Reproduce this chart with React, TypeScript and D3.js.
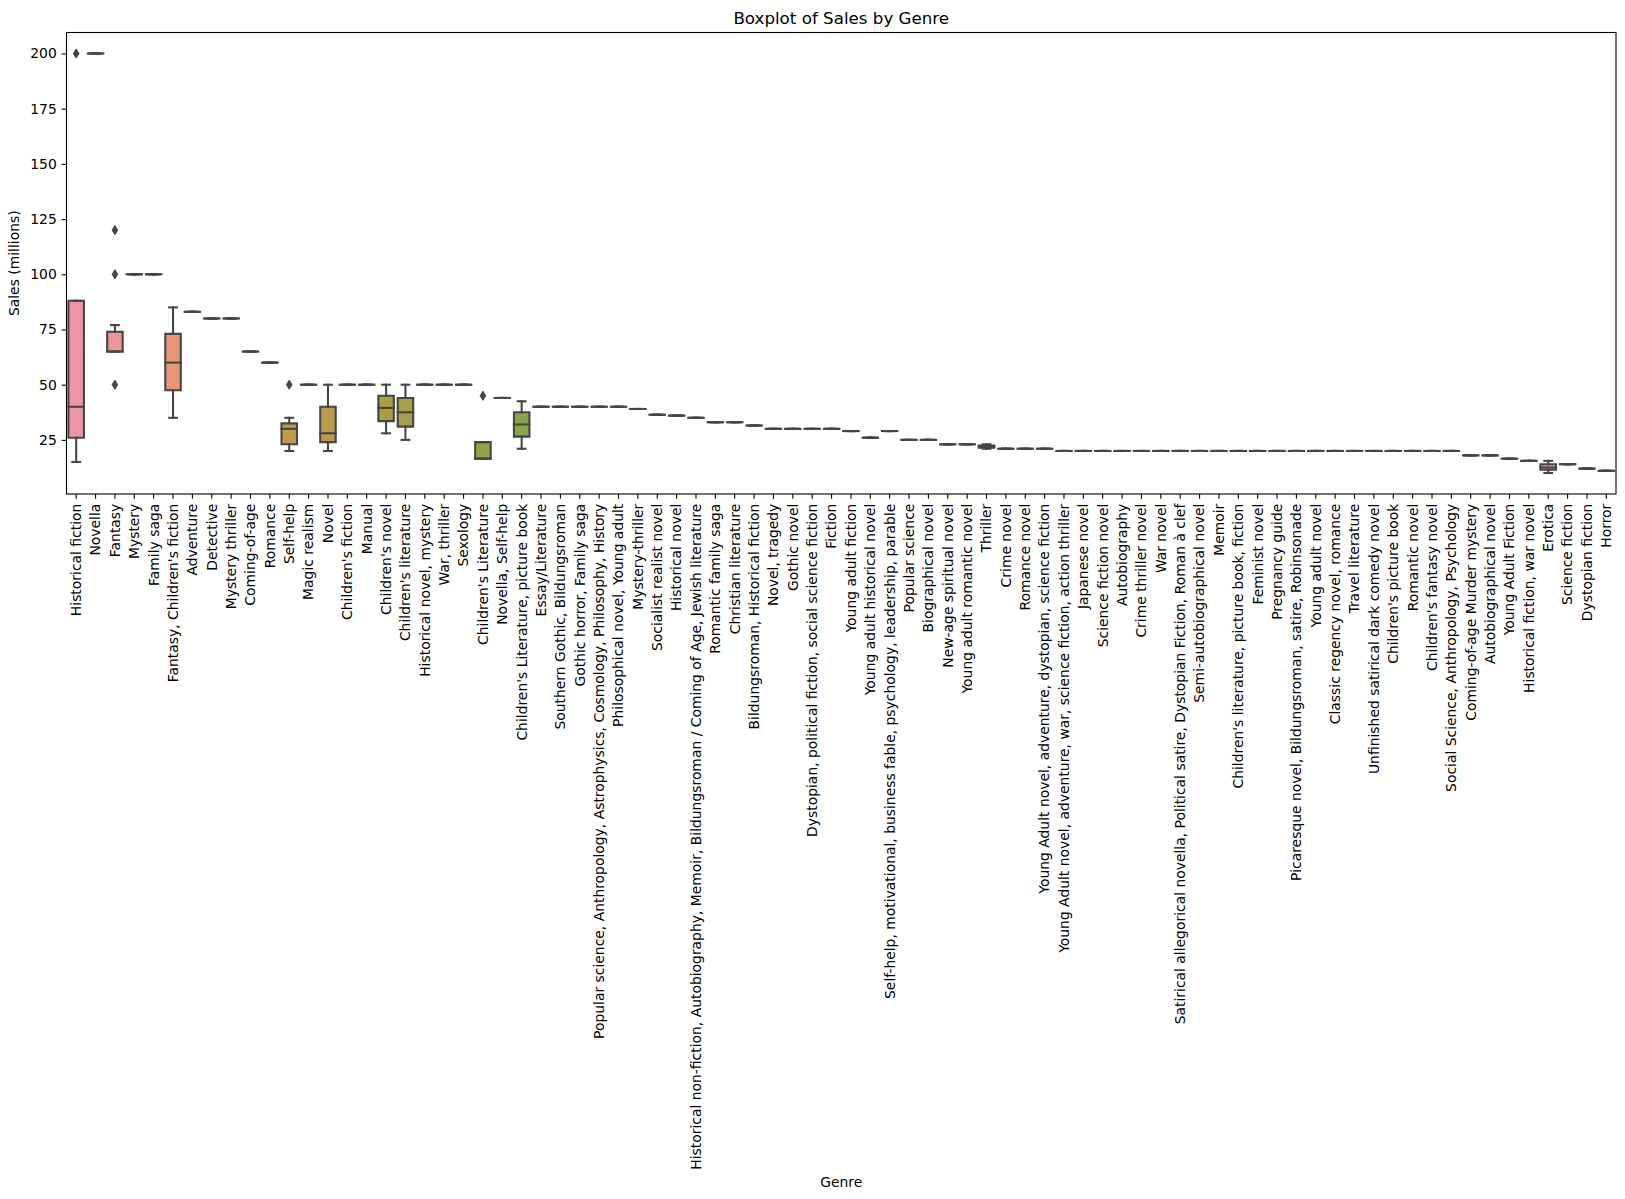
import { useEffect, useRef } from "react";
import * as d3 from "d3";

// categories in plotting order
const GENRES = [
  "Historical fiction",
  "Novella",
  "Fantasy",
  "Mystery",
  "Family saga",
  "Fantasy, Children's fiction",
  "Adventure",
  "Detective",
  "Mystery thriller",
  "Coming-of-age",
  "Romance",
  "Self-help",
  "Magic realism",
  "Novel",
  "Children's fiction",
  "Manual",
  "Children's novel",
  "Children's literature",
  "Historical novel, mystery",
  "War, thriller",
  "Sexology",
  "Children's Literature",
  "Novella, Self-help",
  "Children's Literature, picture book",
  "Essay/Literature",
  "Southern Gothic, Bildungsroman",
  "Gothic horror, Family saga",
  "Popular science, Anthropology, Astrophysics, Cosmology, Philosophy, History",
  "Philosophical novel, Young adult",
  "Mystery-thriller",
  "Socialist realist novel",
  "Historical novel",
  "Historical non-fiction, Autobiography, Memoir, Bildungsroman / Coming of Age, Jewish literature",
  "Romantic family saga",
  "Christian literature",
  "Bildungsroman, Historical fiction",
  "Novel, tragedy",
  "Gothic novel",
  "Dystopian, political fiction, social science fiction",
  "Fiction",
  "Young adult fiction",
  "Young adult historical novel",
  "Self-help, motivational, business fable, psychology, leadership, parable",
  "Popular science",
  "Biographical novel",
  "New-age spiritual novel",
  "Young adult romantic novel",
  "Thriller",
  "Crime novel",
  "Romance novel",
  "Young Adult novel, adventure, dystopian, science fiction",
  "Young Adult novel, adventure, war, science fiction, action thriller",
  "Japanese novel",
  "Science fiction novel",
  "Autobiography",
  "Crime thriller novel",
  "War novel",
  "Satirical allegorical novella, Political satire, Dystopian Fiction, Roman à clef",
  "Semi-autobiographical novel",
  "Memoir",
  "Children's literature, picture book, fiction",
  "Feminist novel",
  "Pregnancy guide",
  "Picaresque novel, Bildungsroman, satire, Robinsonade",
  "Young adult novel",
  "Classic regency novel, romance",
  "Travel literature",
  "Unfinished satirical dark comedy novel",
  "Children's picture book",
  "Romantic novel",
  "Children's fantasy novel",
  "Social Science, Anthropology, Psychology",
  "Coming-of-age Murder mystery",
  "Autobiographical novel",
  "Young Adult Fiction",
  "Historical fiction, war novel",
  "Erotica",
  "Science fiction",
  "Dystopian fiction",
  "Horror",
];

// sales (millions) of the books in each genre, same order as GENRES
const SALES: number[][] = [
  [200, 88, 40, 26, 15],
  [200],
  [120, 100, 77, 65, 65, 65, 65, 65, 65, 50],
  [100],
  [100],
  [85, 73, 60, 47.5, 35],
  [83],
  [80],
  [80],
  [65],
  [60],
  [50, 35, 32.5, 30, 30, 27, 23, 21, 20],
  [50],
  [50, 40, 28, 24, 20],
  [50],
  [50],
  [50, 45, 39.5, 33.5, 28],
  [50, 44, 37.5, 31, 25],
  [50],
  [50],
  [50],
  [45, 24, 16.5, 16.5, 16.5],
  [44],
  [42.5, 37.5, 32, 26.5, 21],
  [40],
  [40],
  [40],
  [40],
  [40],
  [39],
  [36.4],
  [36],
  [35],
  [33],
  [33],
  [31.5],
  [30],
  [30],
  [30],
  [30],
  [29],
  [26],
  [29],
  [25],
  [25],
  [23],
  [23],
  [23, 22.5, 22, 21.5, 21],
  [21],
  [21],
  [21],
  [20],
  [20],
  [20],
  [20],
  [20],
  [20],
  [20],
  [20],
  [20],
  [20],
  [20],
  [20],
  [20],
  [20],
  [20],
  [20],
  [20],
  [20],
  [20],
  [20],
  [20],
  [18],
  [18],
  [16.5],
  [15.5],
  [15.5, 14, 12.5, 11.5, 10],
  [14],
  [12],
  [11],
];

const Y_TICKS = [25, 50, 75, 100, 125, 150, 175, 200];

const WIDTH = 1625;
const HEIGHT = 1199;
const FRAME = { left: 66.5, right: 1616, top: 32.5, bottom: 494 };
const FONT = "DejaVu Sans";

// husl colour space (seaborn's husl_palette)
const HM = [
  [3.2406, -1.5372, -0.4986],
  [-0.9689, 1.8758, 0.0415],
  [0.0557, -0.204, 1.057],
];

function maxChroma(L: number, H: number) {
  const hrad = (H / 360) * 2 * Math.PI;
  const sinH = Math.sin(hrad);
  const cosH = Math.cos(hrad);
  const sub1 = Math.pow(L + 16, 3) / 1560896;
  const sub2 = sub1 > 0.008856 ? sub1 : L / 903.3;
  let result = Infinity;
  for (const [m1, m2, m3] of HM) {
    const top = (0.99915 * m1 + 1.05122 * m2 + 1.1446 * m3) * sub2;
    const rbottom = 0.8633 * m3 - 0.17266 * m2;
    const lbottom = 0.12949 * m3 - 0.38848 * m1;
    const bottom = (rbottom * sinH + lbottom * cosH) * sub2;
    for (const t of [0, 1]) {
      const C = (L * (top - 1.05122 * t)) / (bottom + 0.17266 * sinH * t);
      if (C > 0 && C < result) result = C;
    }
  }
  return result;
}

function huslToRgb(h: number, s: number, l: number) {
  const C = (maxChroma(l, h) / 100) * s;
  const hrad = (h / 360) * 2 * Math.PI;
  const U = C * Math.cos(hrad);
  const V = C * Math.sin(hrad);
  const t = (l + 16) / 116;
  const Y = t * t * t > 0.008856 ? t * t * t : (116 * t - 16) / 903.3;
  const varU = U / (13 * l) + 0.19784;
  const varV = V / (13 * l) + 0.46834;
  const X = -(9 * Y * varU) / ((varU - 4) * varV - varU * varV);
  const Z = (9 * Y - 15 * varV * Y - varV * X) / (3 * varV);
  return HM.map(([a, b, c]) => {
    const v = a * X + b * Y + c * Z;
    const g = v <= 0.0031308 ? 12.92 * v : 1.055 * Math.pow(v, 1 / 2.4) - 0.055;
    return Math.min(1, Math.max(0, g));
  });
}

function boxPalette(n: number) {
  return d3.range(n).map((i) => {
    const hue = ((i / n + 0.01) % 1) * 359;
    const [r, g, b] = huslToRgb(hue, 0.9 * 99, 0.7 * 99);
    const c = d3.hsl(d3.rgb(r * 255, g * 255, b * 255));
    c.s *= 0.75;
    return c;
  });
}

export default function App() {
  const svgRef = useRef<SVGSVGElement>(null);

  useEffect(() => {
    if (!svgRef.current) return;
    const svg = d3.select(svgRef.current);
    svg.selectAll("*").remove();

    const palette = boxPalette(GENRES.length);
    const lum = (d3.min(palette, (c) => c.l) as number) * 0.6;
    const gray = d3.rgb(lum * 255, lum * 255, lum * 255).formatHex();
    const lw = 2.08;

    const x = d3
      .scaleBand<string>()
      .domain(GENRES)
      .range([FRAME.left, FRAME.right])
      .paddingInner(0.2)
      .paddingOuter(0.1);

    const all = SALES.flat();
    const [lo, hi] = d3.extent(all) as [number, number];
    const pad = (hi - lo) * 0.05;
    const y = d3
      .scaleLinear()
      .domain([lo - pad, hi + pad])
      .range([FRAME.bottom, FRAME.top]);

    // Title
    svg
      .append("text")
      .attr("x", (FRAME.left + FRAME.right) / 2)
      .attr("y", 24)
      .attr("text-anchor", "middle")
      .attr("font-family", FONT)
      .attr("font-size", "16.7px")
      .text("Boxplot of Sales by Genre");

    // Boxes
    const bw = x.bandwidth();
    GENRES.forEach((genre, i) => {
      const vals = SALES[i].slice().sort(d3.ascending);
      const q1 = d3.quantileSorted(vals, 0.25) as number;
      const med = d3.quantileSorted(vals, 0.5) as number;
      const q3 = d3.quantileSorted(vals, 0.75) as number;
      const iqr = q3 - q1;
      const inside = vals.filter((v) => v >= q1 - 1.5 * iqr && v <= q3 + 1.5 * iqr);
      const wLo = d3.min(inside) as number;
      const wHi = d3.max(inside) as number;
      const fliers = vals.filter((v) => v < q1 - 1.5 * iqr || v > q3 + 1.5 * iqr);

      const x0 = x(genre) as number;
      const cx = x0 + bw / 2;
      const g = svg.append("g");

      g.append("path")
        .attr("d", `M${x0},${y(q1)}H${x0 + bw}V${y(q3)}H${x0}Z`)
        .attr("fill", palette[i].formatHex())
        .attr("stroke", gray)
        .attr("stroke-width", lw)
        .attr("stroke-linejoin", "miter");

      const seg = (x1: number, y1: number, x2: number, y2: number) =>
        g
          .append("line")
          .attr("x1", x1)
          .attr("y1", y1)
          .attr("x2", x2)
          .attr("y2", y2)
          .attr("stroke", gray)
          .attr("stroke-width", lw)
          .attr("stroke-linecap", "square");

      seg(cx, y(q1), cx, y(wLo));
      seg(cx, y(q3), cx, y(wHi));
      seg(cx - bw / 4, y(wLo), cx + bw / 4, y(wLo));
      seg(cx - bw / 4, y(wHi), cx + bw / 4, y(wHi));
      seg(x0, y(med), x0 + bw, y(med));

      g.selectAll("path.flier")
        .data(fliers)
        .join("path")
        .attr("class", "flier")
        .attr("d", (v) => {
          const fy = y(v);
          return `M${cx},${fy - 4.6}L${cx + 2.8},${fy}L${cx},${fy + 4.6}L${cx - 2.8},${fy}Z`;
        })
        .attr("fill", gray)
        .attr("stroke", gray)
        .attr("stroke-width", 1);
    });

    // Y axis
    const yAxis = svg
      .append("g")
      .attr("transform", `translate(${FRAME.left},0)`)
      .call(
        d3
          .axisLeft(y)
          .tickValues(Y_TICKS)
          .tickSize(4.86)
          .tickPadding(4.86)
          .tickSizeOuter(0)
      );
    yAxis.select(".domain").remove();
    yAxis.selectAll("line").attr("stroke", "#000").attr("stroke-width", 1.1);
    yAxis
      .selectAll("text")
      .attr("fill", "#000")
      .attr("font-family", FONT)
      .attr("font-size", "13.9px");

    // X axis
    const xAxis = svg
      .append("g")
      .attr("transform", `translate(0,${FRAME.bottom})`)
      .call(d3.axisBottom(x).tickSize(4.86).tickPadding(4.86).tickSizeOuter(0));
    xAxis.select(".domain").remove();
    xAxis.selectAll("line").attr("stroke", "#000").attr("stroke-width", 1.1);
    xAxis
      .selectAll("text")
      .attr("fill", "#000")
      .attr("font-family", FONT)
      .attr("font-size", "13.9px")
      .attr("transform", "rotate(-90)")
      .attr("x", -9.7)
      .attr("y", 0)
      .attr("dy", "0.35em")
      .attr("text-anchor", "end");

    // Axis labels
    svg
      .append("text")
      .attr("transform", `translate(19,${(FRAME.top + FRAME.bottom) / 2}) rotate(-90)`)
      .attr("text-anchor", "middle")
      .attr("font-family", FONT)
      .attr("font-size", "13.9px")
      .text("Sales (millions)");

    svg
      .append("text")
      .attr("x", (FRAME.left + FRAME.right) / 2)
      .attr("y", 1186.5)
      .attr("text-anchor", "middle")
      .attr("font-family", FONT)
      .attr("font-size", "13.9px")
      .text("Genre");

    // Frame
    svg
      .append("rect")
      .attr("x", FRAME.left)
      .attr("y", FRAME.top)
      .attr("width", FRAME.right - FRAME.left)
      .attr("height", FRAME.bottom - FRAME.top)
      .attr("fill", "none")
      .attr("stroke", "#000")
      .attr("stroke-width", 1.1);
  }, []);

  return (
    <div style={{ position: "absolute", left: 0, top: 0, background: "#fff" }}>
      <svg ref={svgRef} width={WIDTH} height={HEIGHT} style={{ display: "block" }} />
    </div>
  );
}
